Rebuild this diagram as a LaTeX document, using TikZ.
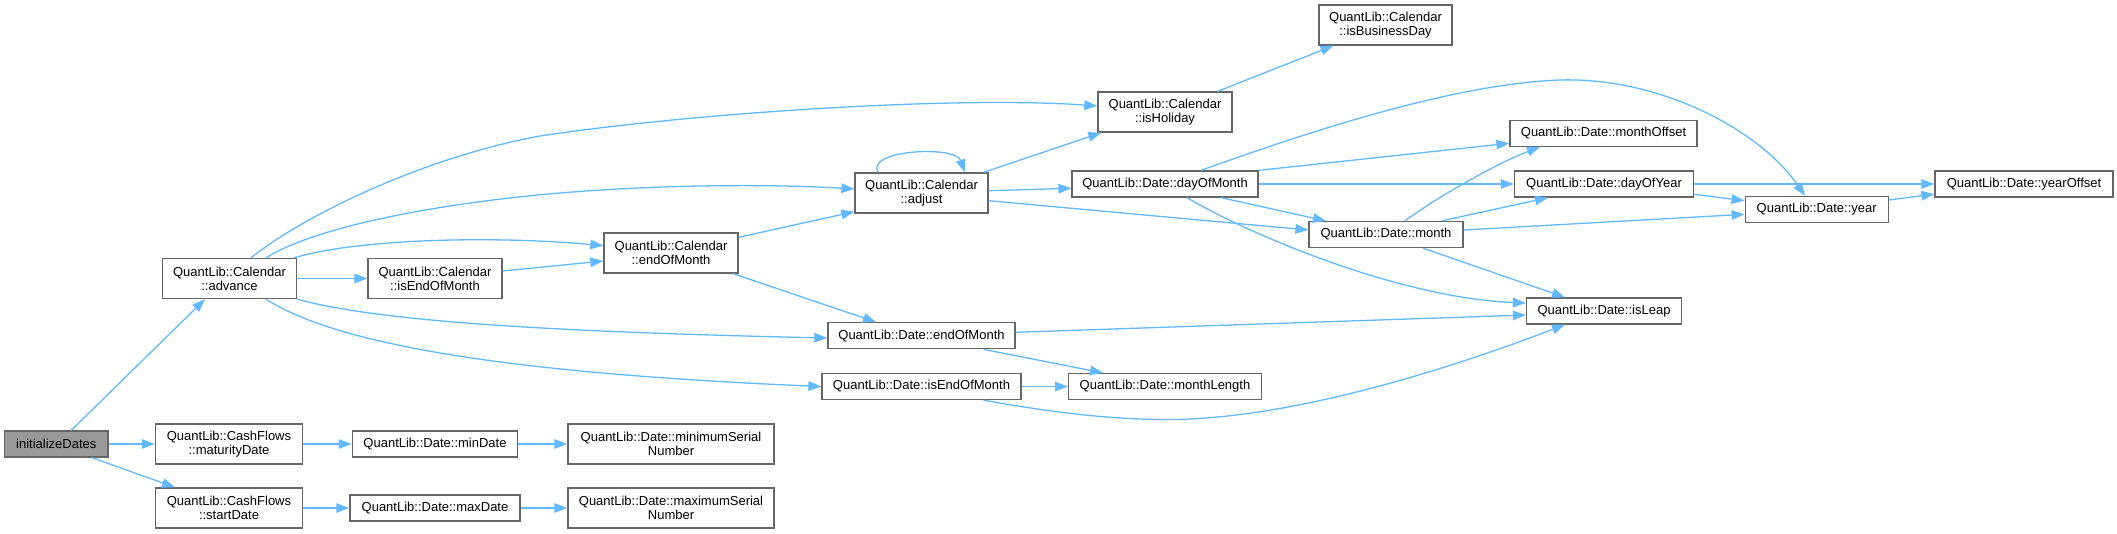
\documentclass[tikz,border=0pt]{standalone}
\usepackage{fontspec}
\setmainfont{Liberation Sans}
\usetikzlibrary{arrows.meta}
\definecolor{edgeblue}{HTML}{63B8FF}
\definecolor{bordergray}{HTML}{666666}
\definecolor{fillgray}{HTML}{999999}
\newcommand\dxfont{\fontsize{13}{14.3}\selectfont}
\begin{document}
\begin{tikzpicture}[x=1pt,y=-1pt,
  box/.style={draw=bordergray, line width=1.3pt, fill=white, inner sep=0pt, align=center, font=\dxfont},
  one/.style={minimum height=26pt},
  two/.style={minimum height=40pt},
  edge/.style={draw=edgeblue, line width=1.3pt, -{Triangle[length=13pt,width=9.5pt]}}]
\useasboundingbox (0,0) rectangle (2117,533);
% nodes
\node[box,one,fill=fillgray,minimum width=103.5pt] (init) at (56.3,444) {initializeDates};
\node[box,two,minimum width=134pt] (advance) at (229.5,278.5) {QuantLib::Calendar\\::advance};
\node[box,two,minimum width=134pt] (cisEOM) at (435,278.5) {QuantLib::Calendar\\::isEndOfMonth};
\node[box,two,minimum width=147pt] (maturity) at (229,444) {QuantLib::CashFlows\\::maturityDate};
\node[box,two,minimum width=147pt] (start) at (229,508) {QuantLib::CashFlows\\::startDate};
\node[box,one,minimum width=165.5pt] (minDate) at (435,444) {QuantLib::Date::minDate};
\node[box,one,minimum width=170pt] (maxDate) at (435,508) {QuantLib::Date::maxDate};
\node[box,two,minimum width=206pt] (minSer) at (671,444) {QuantLib::Date::minimumSerial\\Number};
\node[box,two,minimum width=206pt] (maxSer) at (671,508) {QuantLib::Date::maximumSerial\\Number};
\node[box,two,minimum width=134pt] (calEOM) at (671,253) {QuantLib::Calendar\\::endOfMonth};
\node[box,two,minimum width=133pt] (adjust) at (921.5,193) {QuantLib::Calendar\\::adjust};
\node[box,one,minimum width=187pt] (dEOM) at (921.5,335.7) {QuantLib::Date::endOfMonth};
\node[box,one,minimum width=199pt] (disEOM) at (921.5,386.5) {QuantLib::Date::isEndOfMonth};
\node[box,one,minimum width=193pt] (mLen) at (1165,386.5) {QuantLib::Date::monthLength};
\node[box,two,minimum width=134pt] (isHol) at (1165,112) {QuantLib::Calendar\\::isHoliday};
\node[box,two,minimum width=133pt] (isBD) at (1385.5,25) {QuantLib::Calendar\\::isBusinessDay};
\node[box,one,minimum width=186pt] (dom) at (1165,184) {QuantLib::Date::dayOfMonth};
\node[box,one,minimum width=187pt] (mOff) at (1603.5,133.3) {QuantLib::Date::monthOffset};
\node[box,one,minimum width=179pt] (doy) at (1604,184) {QuantLib::Date::dayOfYear};
\node[box,one,minimum width=154pt] (month) at (1386,234.5) {QuantLib::Date::month};
\node[box,one,minimum width=155pt] (isLeap) at (1604,311) {QuantLib::Date::isLeap};
\node[box,one,minimum width=143pt] (year) at (1816.7,209.5) {QuantLib::Date::year};
\node[box,one,minimum width=178pt] (yOff) at (2024,184) {QuantLib::Date::yearOffset};
% edges
\draw[edge] ([xshift=15pt]init.north) -- ([xshift=-24.5pt]advance.south);
\draw[edge] (init.east) -- (maturity.west);
\draw[edge] ([xshift=35.7pt]init.south) -- ([xshift=-54pt]start.north);
\draw[edge] (maturity.east) -- (minDate.west);
\draw[edge] (start.east) -- (maxDate.west);
\draw[edge] (minDate.east) -- (minSer.west);
\draw[edge] (maxDate.east) -- (maxSer.west);
\draw[edge] (advance.east) -- (cisEOM.west);
\draw[edge] ([xshift=21.5pt]advance.north) .. controls (300,218) and (420,158) .. (540,136) .. controls (700,112) and (960,96) .. ([yshift=6pt]isHol.west);
\draw[edge] ([xshift=36.5pt]advance.north) .. controls (310,230) and (420,205) .. (560,193) .. controls (680,183) and (790,185) .. ([yshift=4pt]adjust.west);
\draw[edge] ([xshift=-3pt]advance.north east) .. controls (360,238) and (500,236) .. ([yshift=7.3pt]calEOM.west);
\draw[edge] ([yshift=7.5pt]cisEOM.east) -- ([yshift=-8pt]calEOM.west);
\draw[edge] (advance.south east) .. controls (380,322) and (560,332) .. ([yshift=-2.3pt]dEOM.west);
\draw[edge] ([xshift=36.5pt]advance.south) .. controls (330,340) and (480,372) .. (disEOM.west);
\draw[edge] ([yshift=15.7pt]calEOM.east) -- ([yshift=-18.7pt]adjust.west);
\draw[edge] ([xshift=62pt]calEOM.south) -- ([xshift=-45.5pt]dEOM.north);
\draw[edge] ([xshift=-43.5pt]adjust.north) .. controls (865,150) and (955,145) .. ([xshift=43.5pt]adjust.north);
\draw[edge] ([xshift=-5pt]adjust.north east) -- ([xshift=4pt]isHol.south west);
\draw[edge] ([yshift=2.3pt]adjust.east) -- ([yshift=-4.3pt]dom.west);
\draw[edge] ([yshift=-7.7pt]adjust.east) -- ([yshift=4.5pt]month.west);
\draw[edge] ([xshift=52.5pt]isHol.north) -- ([xshift=-52pt]isBD.south);
\draw[edge] (dom.north east) -- ([yshift=-10pt]mOff.west);
\draw[edge] (dom.east) -- (doy.west);
\draw[edge] ([xshift=56pt]dom.south) -- ([xshift=-60pt]month.north);
\draw[edge] ([xshift=36pt]dom.north) .. controls (1300,135) and (1450,84) .. (1560,80) .. controls (1660,77) and (1760,130) .. ([xshift=-11.7pt]year.north);
\draw[edge] ([xshift=22pt]dom.south) .. controls (1250,235) and (1400,298) .. ([yshift=8pt]isLeap.west);
\draw[edge] ([xshift=37pt]month.south) -- ([xshift=-39pt]isLeap.north);
\draw[edge] ([xshift=19pt]month.north) .. controls (1440,195) and (1500,162) .. ([xshift=-63.5pt]mOff.south);
\draw[edge] ([xshift=55.7pt]month.north) -- ([xshift=-56pt]doy.south);
\draw[edge] ([yshift=4.5pt]month.east) -- ([yshift=-4.8pt]year.west);
\draw[edge] (doy.east) -- (yOff.west);
\draw[edge] ([yshift=-10.3pt]doy.east) -- ([yshift=8.8pt]year.west);
\draw[edge] ([yshift=9.5pt]year.east) -- ([yshift=-10pt]yOff.west);
\draw[edge] ([xshift=62pt]dEOM.south) -- ([xshift=-62pt]mLen.north);
\draw[edge] (disEOM.east) -- (mLen.west);
\draw[edge] ([yshift=3.4pt]dEOM.east) -- ([yshift=-4pt]isLeap.west);
\draw[edge] ([xshift=62pt]disEOM.south) .. controls (1060,414) and (1120,420) .. (1173,419.5) .. controls (1280,418) and (1420,380) .. ([xshift=-39pt]isLeap.south);
\end{tikzpicture}
\end{document}
